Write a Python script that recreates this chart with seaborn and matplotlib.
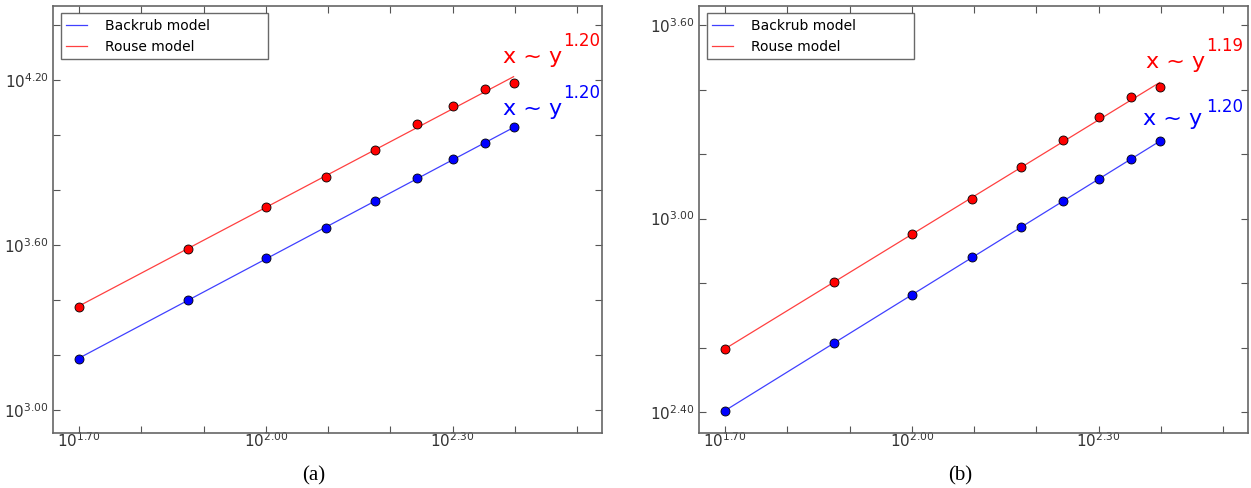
import numpy as np
import matplotlib
matplotlib.use('Agg')
import matplotlib.pyplot as plt
from matplotlib.patches import Rectangle
import seaborn as sns

# chain lengths (x axis) shared by both panels
n_values = [50, 75, 100, 125, 150, 175, 200, 225, 250]

# panel (a): log10 of y values
a_backrub = [3.187, 3.400, 3.551, 3.663, 3.760, 3.843, 3.912, 3.969, 4.027]
a_rouse = [3.375, 3.587, 3.739, 3.847, 3.944, 4.038, 4.103, 4.168, 4.189]

# panel (b)
b_backrub = [2.402, 2.615, 2.764, 2.881, 2.974, 3.054, 3.122, 3.184, 3.240]
b_rouse = [2.594, 2.804, 2.952, 3.060, 3.159, 3.243, 3.314, 3.376, 3.407]

# exponents printed on the chart (rouse, backrub)
a_exponents = ['1.20', '1.20']
b_exponents = ['1.19', '1.20']

x_ticks = [1.7, 1.8, 1.9, 2.0, 2.1, 2.2, 2.3, 2.4, 2.5]
x_labeled = [1.70, 2.00, 2.30]
a_yticks = [3.0, 3.2, 3.4, 3.6, 3.8, 4.0, 4.2, 4.4]
a_ylabeled = [3.00, 3.60, 4.20]
b_yticks = [2.4, 2.6, 2.8, 3.0, 3.2, 3.4, 3.6]
b_ylabeled = [2.40, 3.00, 3.60]

captions = ['(a)', '(b)']

plt.rcParams['font.family'] = ['DejaVu Sans']
plt.rcParams['mathtext.fontset'] = 'dejavusans'

fig = plt.figure(figsize=(12.51, 4.88), dpi=100)
ax_a = fig.add_axes([53/1251, 1-433/488, 549/1251, 427/488])
ax_b = fig.add_axes([699/1251, 1-433/488, 549/1251, 427/488])


def tick_labels(ticks, labeled):
    out = []
    for t in ticks:
        if any(abs(t - l) < 1e-6 for l in labeled):
            out.append(r'$10^{%.2f}$' % t)
        else:
            out.append('')
    return out


def draw_panel(ax, backrub, rouse, exps, yticks, ylabeled, ylim, text_pos):
    x = np.array(n_values, dtype=float)
    lx = np.log10(x)
    series = [(backrub, 'blue', 'Backrub model'), (rouse, 'red', 'Rouse model')]
    for vals, col, lab in series:
        y = 10 ** np.array(vals)
        k, c = np.polyfit(lx, np.array(vals), 1)
        fit = 10 ** (k * lx + c)
        sns.lineplot(x=[x[0], x[-1]], y=[fit[0], fit[-1]], ax=ax, color=col,
                     linewidth=0.9, alpha=0.75, label=lab)
        sns.scatterplot(x=x, y=y, ax=ax, color=col, s=42, edgecolor='black',
                        linewidth=0.6, zorder=3, legend=False)
    ax.set_xscale('log')
    ax.set_yscale('log')
    ax.set_xlim(10 ** 1.658, 10 ** 2.54)
    ax.set_ylim(10 ** ylim[0], 10 ** ylim[1])
    ax.minorticks_off()
    ax.set_xticks([10 ** t for t in x_ticks])
    ax.set_xticklabels(tick_labels(x_ticks, x_labeled))
    ax.set_yticks([10 ** t for t in yticks])
    ax.set_yticklabels(tick_labels(yticks, ylabeled))
    ax.minorticks_off()
    ax.tick_params(direction='in', length=5, width=0.8, color='#555555',
                   labelsize=11, labelcolor='#333333', top=True, right=True)
    ax.tick_params(axis='x', pad=-1)
    ax.tick_params(axis='y', pad=3)
    for s in ax.spines.values():
        s.set_color('#666666')
        s.set_linewidth(1.2)
    ax.set_xlabel('')
    ax.set_ylabel('')
    leg = ax.legend(loc='upper left', bbox_to_anchor=(0.014, 0.5, 0.378, 0.4836),
                    mode='expand', frameon=True, fancybox=False,
                    fontsize=10, handlelength=1.5, handletextpad=1.3,
                    borderaxespad=0, borderpad=0.4, labelspacing=0.5)
    leg.get_frame().set_edgecolor('#444444')
    leg.get_frame().set_linewidth(1.0)
    for (tx, ty, ex, ey), e, col in zip(text_pos, exps, ['red', 'blue']):
        ax.text(tx, ty, 'x ~ y', color=col, fontsize=16,
                transform=ax.transAxes, va='baseline')
        ax.text(ex, ey, e, color=col, fontsize=12,
                transform=ax.transAxes, va='baseline')


draw_panel(ax_a, a_backrub, a_rouse, a_exponents, a_yticks, a_ylabeled,
           (2.917, 4.468),
           [(0.819, 0.866, 0.929, 0.907), (0.819, 0.745, 0.929, 0.784)])
draw_panel(ax_b, b_backrub, b_rouse, b_exponents, b_yticks, b_ylabeled,
           (2.335, 3.659),
           [(0.815, 0.854, 0.923, 0.895), (0.808, 0.721, 0.923, 0.752)])

# the source image cuts off the bottom of the x tick labels
fig.patches.append(Rectangle((0, 0), 1, (488-449)/488, transform=fig.transFigure,
                             facecolor='white', edgecolor='none', zorder=5))
fig.text(314/1251, 1-476/488, captions[0], ha='center', va='center',
         fontsize=15, family='Liberation Serif', zorder=6)
fig.text(960/1251, 1-476/488, captions[1], ha='center', va='center',
         fontsize=15, family='Liberation Serif', zorder=6)

fig.savefig('out.png', dpi=100, facecolor='white')
